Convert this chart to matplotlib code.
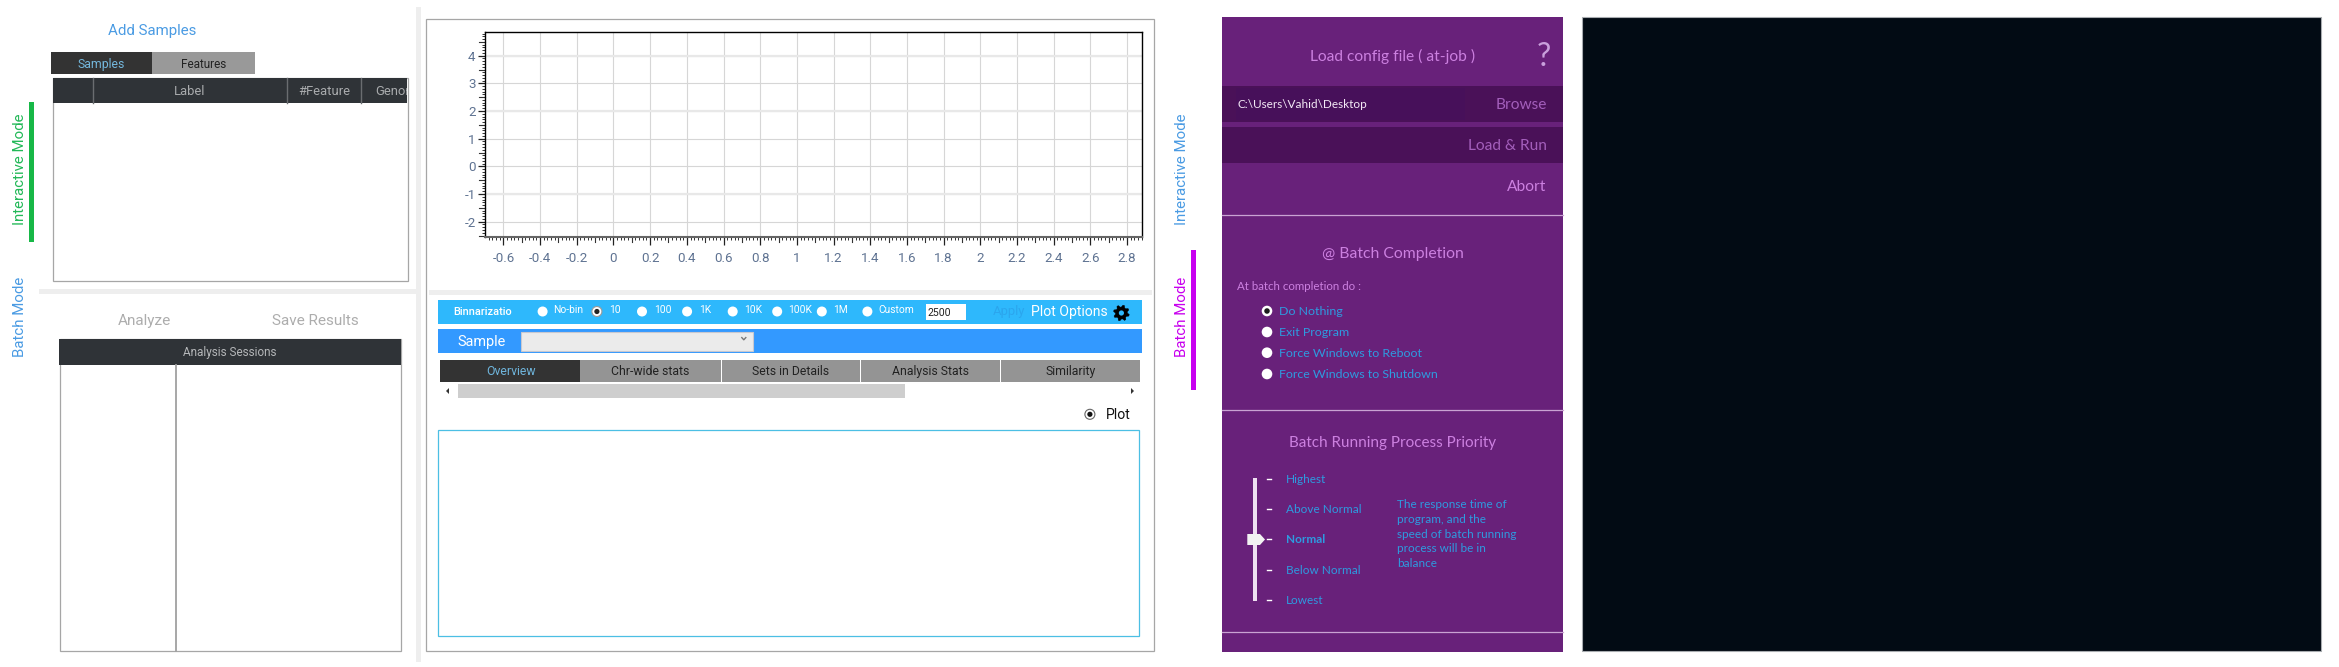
import numpy as np
import matplotlib
matplotlib.use("Agg")
import matplotlib.pyplot as plt
from matplotlib.patches import Rectangle, Circle, Polygon
from matplotlib.ticker import FixedLocator, FixedFormatter

# ---------- chart content ----------
x_major = [-0.6, -0.4, -0.2, 0, 0.2, 0.4, 0.6, 0.8, 1, 1.2, 1.4, 1.6, 1.8, 2, 2.2, 2.4, 2.6, 2.8]
x_labels = ["-0.6", "-0.4", "-0.2", "0", "0.2", "0.4", "0.6", "0.8", "1", "1.2", "1.4", "1.6", "1.8", "2", "2.2", "2.4", "2.6", "2.8"]
y_major = [-2, -1, 0, 1, 2, 3, 4]
y_labels = ["-2", "-1", "0", "1", "2", "3", "4"]
x_limits = (-0.698, 2.882)
y_limits = (-2.553, 4.856)
heavy_grid_rows = [-1, 2, 4]

side_modes = ["Interactive Mode", "Batch Mode"]
table_columns = ["Label", "#Feature", "Genome"]
left_tabs = ["Samples", "Features"]
bin_options = ["No-bin", "10", "100", "1K", "10K", "100K", "1M", "Custom"]
bin_selected = "10"
detail_tabs = ["Overview", "Chr-wide stats", "Sets in Details", "Analysis Stats", "Similarity"]
completion_options = ["Do Nothing", "Exit Program", "Force Windows to Reboot", "Force Windows to Shutdown"]
priority_levels = ["Highest", "Above Normal", "Normal", "Below Normal", "Lowest"]
priority_note = ["The response time of", "program, and the", "speed of batch running", "process will be in", "balance"]

# ---------- layout ----------
W, H = 2339, 667
SEGOE = ["Roboto", "Open Sans", "DejaVu Sans"]
CANDARA = ["Lato", "Open Sans", "DejaVu Sans"]

fig = plt.figure(figsize=(W / 100, H / 100), dpi=100, facecolor="white")
ui = fig.add_axes([0, 0, 1, 1], zorder=0)
ui.set_xlim(0, W)
ui.set_ylim(H, 0)
ui.axis("off")


def box(x0, y0, x1, y1, fc="none", ec="none", lw=0.0, z=1, **kw):
    p = Rectangle((x0, y0), x1 - x0, y1 - y0, facecolor=fc, edgecolor=ec, linewidth=lw, zorder=z, **kw)
    ui.add_patch(p)
    return p


def text(x, y, s, px, color, ha="center", family=SEGOE, weight="normal", rot=0, z=5, **kw):
    if rot:
        x += 1.5
    else:
        y += 0.8
    return ui.text(x, y, s, fontsize=px * 0.72, color=color, ha=ha, va="center", family=family,
                   fontweight=weight, rotation=rot, zorder=z, **kw)


def radio(x, y, r, fc="white", ec="none", dot=None, z=4, lw=0.8):
    ui.add_patch(Circle((x, y), r, facecolor=fc, edgecolor=ec, linewidth=lw, zorder=z))
    if dot:
        ui.add_patch(Circle((x, y), r * 0.52, facecolor=dot, edgecolor="none", zorder=z + 1))


# ---------- separators ----------
box(39, 289, 420, 294, fc="#eeeeee")
box(416, 7, 421, 662, fc="#eeeeee")

# ---------- left column ----------
BLUE = "#4a9be3"
text(152.5, 30, "Add Samples", 15, BLUE)
box(51, 52, 152, 74, fc="#333333")
box(152, 52, 255, 74, fc="#999999")
text(101.5, 63.5, left_tabs[0], 12.3, "#74b8dd")
text(204, 63.5, left_tabs[1], 11.8, "#222222")

box(52.5, 77.5, 407.5, 280.5, fc="white", ec="#a6a6a6", lw=0.9, z=1)
box(53, 78, 407, 102.5, fc="#2f3337", z=2)
for sx in [93, 287, 361.3]:
    ui.plot([sx, sx], [78, 102.5], color="#6a6d70", lw=1.0, zorder=3)
text(190, 90.5, table_columns[0], 13, "#a9abad")
text(324, 90.5, table_columns[1], 13, "#a9abad")
clip = Rectangle((53, 78), 354, 24.5, transform=ui.transData)
gen = text(375, 90.5, table_columns[2], 13, "#a9abad", ha="left")
gen.set_clip_path(clip)
gen.set_clip_on(True)

text(18.3, 169, side_modes[0], 15, "#22b857", rot=90)
box(29, 102, 34, 241.7, fc="#17b847")
text(18.3, 317, side_modes[1], 15, BLUE, rot=90)

text(144, 320, "Analyze", 15.2, "#adadad")
text(315, 320, "Save Results", 15.2, "#adadad")

box(59.5, 339, 400.5, 651.3, fc="white", ec="#a6a6a6", lw=0.9)
box(59, 339, 401, 364.7, fc="#2f3337", z=2)
text(229.7, 351.7, "Analysis Sessions", 11.8, "#b5b7b9")
ui.plot([175.7, 175.7], [364.7, 651.3], color="#a0a0a0", lw=1.3, zorder=3)

# ---------- centre column ----------
box(425.8, 19.3, 1154.4, 651.3, fc="white", ec="#a6a6a6", lw=0.9)
box(428.7, 290, 1152, 295, fc="#eeeeee", z=2)

box(438.4, 299.7, 1142.2, 323.7, fc="#2eb8fc", z=2)
box(438.4, 328.7, 1142.2, 352.7, fc="#3399ff", z=2)
box(521.3, 331.7, 752.5, 351, fc="#ebebeb", ec="#c8c8d0", lw=0.8, z=3)
ui.plot([741.8, 743.8, 745.8], [337.6, 339.8, 337.6], color="#777777", lw=1.0, zorder=4)
text(482, 341.5, "Sample", 14.5, "white")

text(453, 311, "Binnarizatio", 11, "white", ha="left", weight="medium")
radio_x = [542.6, 596.9, 642, 687.1, 732.7, 777.2, 821.8, 867.4]
label_x = [553.3, 609, 654.1, 698.7, 743.8, 788.4, 833.5, 878]
for rx, lx, opt in zip(radio_x, label_x, bin_options):
    radio(rx, 311.5, 5, dot="#222222" if opt == bin_selected else None,
          ec="#9a9a9a" if opt == bin_selected else "none")
    text(lx, 309.5, opt, 10.3, "white", ha="left")
box(925.6, 304.3, 966.3, 320, fc="white", z=3)
text(927.5, 312, "2500", 10.5, "#222222", ha="left")
text(1009, 311, "Apply", 13, "#2ba6ee")
text(1069.5, 311, "Plot Options", 14, "white")

# gear icon
gx, gy, teeth = 1121.4, 313, 8
ang = np.linspace(0, 2 * np.pi, teeth * 4, endpoint=False) + np.pi / 16
rad = np.tile([8.0, 8.0, 6.0, 6.0], teeth)
ui.add_patch(Polygon(np.c_[gx + rad * np.cos(ang), gy + rad * np.sin(ang)], closed=True, facecolor="black",
                     edgecolor="black", lw=0.3, zorder=4))
ui.add_patch(Circle((gx, gy), 2.6, facecolor="#2eb8fc", edgecolor="none", zorder=5))

tab_edges = [(440.4, 580.4), (580.4, 720.5), (721.5, 859.7), (861.1, 1000.2), (1001.2, 1139.8)]
tab_cx = [510.6, 650.2, 790.3, 930.4, 1070.5]
for i, ((a, b), cx, name) in enumerate(zip(tab_edges, tab_cx, detail_tabs)):
    box(a, 360, b, 381.7, fc="#333333" if i == 0 else "#949494", z=2)
    text(cx, 371, name, 12.2, "#6fb5dc" if i == 0 else "#222222")

box(457.8, 384, 905.2, 398, fc="#cecece", z=2)
ui.add_patch(Polygon([(446, 391), (449, 388), (449, 394)], closed=True, fc="#333333", ec="none", zorder=3))
ui.add_patch(Polygon([(1134, 391), (1131, 388), (1131, 394)], closed=True, fc="#333333", ec="none", zorder=3))

radio(1089.9, 414.3, 5, fc="white", ec="#666666", dot="#111111", lw=0.8)
text(1118, 414, "Plot", 14, "#111111")
box(438.4, 429.7, 1139.3, 636, fc="white", ec="#4cbfe4", lw=0.9, z=2)

# ---------- chart ----------
L, R, T, B = 485.4, 1142.2, 32, 237
ax = fig.add_axes([L / W, 1 - B / H, (R - L) / W, (B - T) / H], zorder=3)
ax.set_xlim(*x_limits)
ax.set_ylim(*y_limits)
ax.set_facecolor("white")
ax.xaxis.set_major_locator(FixedLocator(x_major))
ax.xaxis.set_major_formatter(FixedFormatter(x_labels))
ax.yaxis.set_major_locator(FixedLocator(y_major))
ax.yaxis.set_major_formatter(FixedFormatter(y_labels))
ax.xaxis.set_minor_locator(FixedLocator(np.arange(-0.68, 2.881, 0.02)))
ax.yaxis.set_minor_locator(FixedLocator(np.arange(-2.5, 4.85, 0.1)))
ax.tick_params(axis="x", which="major", length=5.5, width=0.9, color="#222222", pad=5, labelsize=9.6, labelcolor="#5f7392")
ax.tick_params(axis="y", which="major", length=5, width=0.9, color="#222222", pad=2, labelsize=9.6, labelcolor="#5f7392")
ax.tick_params(which="minor", length=2.0, width=0.7, color="#333333")
for lab in ax.get_xticklabels() + ax.get_yticklabels():
    lab.set_family(SEGOE)
# mid-way ticks
for v in np.arange(-0.7, 2.9, 0.2):
    if x_limits[0] <= v <= x_limits[1]:
        ax.plot([v, v], [0, -0.024], transform=ax.get_xaxis_transform(), color="#333333", lw=0.8, clip_on=False, zorder=2)
for v in np.arange(-2.5, 4.6, 1.0):
    ax.plot([0, -0.009], [v, v], transform=ax.get_yaxis_transform(), color="#333333", lw=0.8, clip_on=False, zorder=2)
ax.grid(True, which="major", color="#d6d6d6", lw=0.8)
for row in heavy_grid_rows:
    ax.axhline(row, color="#e8e8e8", lw=1.6, zorder=1)
ax.set_axisbelow(True)
for name in ["top", "right", "left"]:
    ax.spines[name].set_color("black")
    ax.spines[name].set_linewidth(1.0)
ax.spines["bottom"].set_color("#666666")
ax.spines["bottom"].set_linewidth(1.5)

# ---------- purple panel ----------
PURPLE, DARK, LILAC = "#68217a", "#4a1158", "#cc80e0"
box(1222, 17, 1562.7, 651.7, fc=PURPLE)
box(1222, 86, 1562.7, 122, fc=DARK, z=2)
box(1236, 88, 1465, 120, fc="#47105a", z=2)
box(1222, 127, 1562.7, 163, fc=DARK, z=2)
for yy in [215.3, 410.3, 632.3]:
    ui.plot([1222, 1562.7], [yy, yy], color="#c9a3d3", lw=0.9, zorder=2)
text(1392.7, 56, "Load config file ( at-job )", 15.5, LILAC, family=CANDARA)
text(1544, 56, "?", 32, "#c9a0dc", family=CANDARA)
text(1237.7, 103.7, "C:\\Users\\Vahid\\Desktop", 11.8, "#f4eaf6", ha="left", family=CANDARA)
text(1546.7, 104, "Browse", 15.5, "#a35ebb", ha="right", family=CANDARA)
text(1546.7, 145, "Load & Run", 15.5, "#a35ebb", ha="right", family=CANDARA)
text(1546.7, 186, "Abort", 15.5, LILAC, ha="right", family=CANDARA)
text(1392.7, 253, "@ Batch Completion", 15.8, LILAC, family=CANDARA)
text(1237, 286, "At batch completion do :", 11.5, LILAC, ha="left", family=CANDARA)
for yy, opt, i in zip([311, 332, 352.7, 374], completion_options, range(4)):
    radio(1267, yy, 5.3, dot="#1c1c1c" if i == 0 else None)
    text(1279.3, yy, opt, 12.4, "#2e9be0", ha="left", family=CANDARA)
text(1392.3, 442, "Batch Running Process Priority", 15.3, LILAC, family=CANDARA)
box(1253, 478.3, 1257, 601, fc="#efe0f2", z=3)
ui.add_patch(Polygon([(1247.3, 534), (1260, 534), (1265, 539.5), (1260, 545), (1247.3, 545)], closed=True,
                     fc="#f2f2f2", ec="none", zorder=4))
for yy, lev in zip([479, 509, 539, 569.5, 599.5], priority_levels):
    ui.plot([1266.8, 1270.6], [yy, yy], color="white", lw=1.0, zorder=3)
    text(1286.3, yy, lev, 11.7, "#2e9be0", ha="left", family=CANDARA,
         weight="bold" if lev == "Normal" else "normal")
for yy, line in zip([504, 519, 534, 548, 563], priority_note):
    text(1397.3, yy, line, 11.7, "#2e9be0", ha="left", family=CANDARA)
text(1180, 169, side_modes[0], 15, BLUE, rot=90)
text(1180, 317, side_modes[1], 15, "#c800ee", rot=90)
box(1191, 250, 1196, 390, fc="#c800f0")

# ---------- dark panel ----------
box(1581.7, 17.3, 2321, 651, fc="#020b14", ec="#a8acb0", lw=0.8)

fig.savefig("out.png", dpi=100, facecolor="white")
